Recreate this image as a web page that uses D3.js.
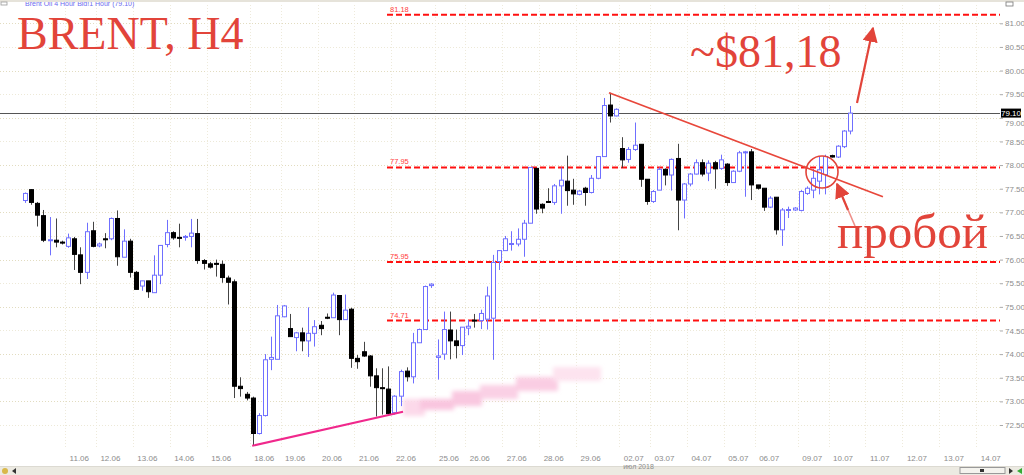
<!DOCTYPE html>
<html><head><meta charset="utf-8">
<script src="https://cdn.jsdelivr.net/npm/d3@7"></script>
<style>
body{margin:0;background:#fff;}
svg{display:block;}
</style></head>
<body><svg id="c" width="1024" height="475"></svg>
<script>
// ---- DATA ----
const opens = [77.25,77.48,77.19,76.93,76.41,76.41,76.37,76.28,76.44,76.10,
75.73,76.61,76.29,76.44,76.44,76.87,76.05,76.39,75.73,75.44,
75.55,75.30,75.67,76.32,76.57,76.47,76.47,76.49,76.55,75.98,
75.91,75.92,75.90,75.61,75.53,73.32,73.15,73.07,72.32,72.70,
73.89,73.89,74.79,74.54,74.35,74.45,74.28,74.44,74.61,74.78,
74.77,75.24,74.73,74.95,73.91,74.05,73.96,73.54,73.29,73.26,
72.76,73.11,73.64,73.52,74.24,74.52,75.45,73.93,74.00,74.51,
74.28,74.18,74.55,74.72,74.71,74.74,74.76,75.96,76.19,76.32,
76.33,76.43,76.77,77.93,77.17,77.23,77.21,77.56,77.66,77.47,
77.38,77.51,77.42,77.72,78.18,79.27,79.04,78.35,78.12,78.33,
78.44,77.70,77.23,77.47,77.91,77.79,78.14,77.26,77.60,77.81,
78.05,77.83,78.05,77.93,78.02,77.63,77.87,78.26,78.28,77.58,
77.51,77.11,77.32,76.63,77.04,77.05,77.04,77.40,77.47,77.66,
77.80,78.20,78.17,78.39,78.72];
const highs = [77.42,77.49,77.22,77.05,76.90,76.87,76.40,76.55,76.48,76.26,
76.78,76.80,76.36,76.56,76.89,77.04,76.64,76.44,75.76,75.55,
75.55,76.09,76.30,76.84,76.60,76.76,76.52,76.86,76.86,76.01,
75.95,76.00,75.98,75.66,75.58,73.51,73.20,73.10,72.75,74.00,
74.37,75.04,75.04,74.85,74.47,74.56,74.99,74.72,74.70,74.86,
75.30,75.24,75.26,74.98,73.98,74.26,73.98,73.70,73.70,73.74,
73.13,73.67,73.72,74.45,74.54,75.45,75.50,74.31,74.90,74.90,
74.52,74.57,74.72,74.85,74.94,75.43,76.10,76.20,76.50,76.60,
76.66,76.84,77.95,77.94,77.19,77.51,77.60,77.95,78.20,77.71,
77.47,77.54,77.79,78.19,79.42,79.53,79.20,78.59,78.38,78.90,
78.44,77.70,77.47,77.95,77.93,78.14,78.45,77.62,77.83,78.12,
78.12,78.10,78.09,78.22,78.04,77.89,78.30,78.30,78.34,77.58,
77.51,77.34,77.32,77.09,77.12,77.11,77.47,77.55,77.92,78.18,
78.22,78.22,78.42,78.74,79.25];
const lows = [77.20,77.16,76.70,76.37,76.09,76.26,76.32,76.25,75.78,75.48,
75.59,76.26,76.26,76.24,76.41,75.87,76.05,75.62,75.37,75.34,
75.19,75.30,75.48,76.26,76.42,76.26,76.40,76.26,75.91,75.79,
75.81,75.64,75.51,75.05,73.07,73.10,73.02,72.06,72.30,72.68,
73.66,73.89,74.78,74.37,74.06,74.06,73.94,74.16,74.40,74.74,
74.77,74.40,74.73,73.71,73.69,73.94,73.31,72.68,72.72,72.70,
72.72,72.90,73.42,73.38,74.24,74.52,75.40,73.46,73.88,73.89,
73.91,73.98,74.40,74.56,74.53,74.52,73.88,75.78,76.19,76.19,
76.28,76.06,76.77,76.97,76.98,77.20,77.16,76.97,77.14,77.16,
77.36,77.14,77.40,77.70,78.18,78.90,79.03,77.94,78.05,78.30,
77.54,77.16,77.20,77.47,77.57,77.46,76.62,76.87,77.55,77.80,
77.76,77.66,77.50,77.90,77.56,77.63,77.85,77.33,77.26,77.48,
77.03,77.09,76.53,76.29,76.88,77.03,77.02,77.37,77.30,77.38,
77.38,78.16,78.15,78.36,78.65];
const closes = [77.40,77.21,76.94,76.41,76.42,76.37,76.35,76.46,76.11,75.73,
76.59,76.28,76.33,76.43,76.87,76.06,76.39,75.73,75.37,75.55,
75.32,75.67,76.30,76.57,76.46,76.46,76.49,76.56,75.98,75.92,
75.84,75.90,75.62,75.52,73.32,73.27,73.07,72.32,72.70,73.88,
73.93,74.81,75.02,74.37,74.45,74.28,74.44,74.58,74.54,74.76,
75.25,74.73,74.93,73.91,73.84,73.96,73.54,73.29,73.27,72.74,
73.11,73.63,73.52,74.24,74.52,75.43,75.48,73.96,74.52,74.28,
74.18,74.57,74.59,74.70,74.86,75.23,75.94,76.19,76.44,76.34,
76.43,76.77,77.95,77.07,77.09,77.21,77.56,77.68,77.46,77.39,
77.45,77.42,77.72,78.18,79.26,79.04,79.18,78.11,78.33,78.42,
77.70,77.23,77.44,77.91,77.79,78.12,77.26,77.60,77.81,78.05,
77.81,78.04,77.92,78.11,77.63,77.87,78.26,78.28,77.58,77.51,
77.11,77.30,76.63,77.05,77.06,77.09,77.44,77.51,77.72,77.90,
78.18,78.17,78.40,78.72,79.10];

const dayLabels = ["11.06","12.06","13.06","14.06","15.06","18.06","19.06","20.06","21.06","22.06",
"25.06","26.06","27.06","28.06","29.06","02.07","03.07","04.07","05.07","06.07",
"09.07","10.07","11.07","12.07","13.07","14.07"];
const dayStartBar = [7,12,18,24,30,37,42,48,54,60,67,72,78,84,90,97,102,108,114,119,126,131,137,143,149,155];

const priceTicks = [72.5,73,73.5,74,74.5,75,75.5,76,76.5,77,77.5,78,78.5,79,79.5,80,80.5,81];

const levelPrices = [81.18, 77.95, 75.95, 74.71];
const levelLabels = ["81.18","77.95","75.95","74.71"];
const levelStartBar = 58.8;

const lastPrice = 79.10;

// trendlines in (bar index, price)
const resistanceLine = [[94.85, 79.53],[139.35, 77.33]];
const supportLine = [[36.9, 72.06],[61.4, 72.78]];

// ---- SCALES ----
const svg = d3.select("#c");
const W = 1024, H = 475, plotRight = 1000;
const x = d3.scaleLinear().domain([0, 134]).range([25, 850]);
const y = d3.scaleLinear().domain([72.5, 81]).range([425, 23.3]);

const bars = opens.map((o,i)=>({i, o, h:highs[i], l:lows[i], c:closes[i]}));

// ---- GRID ----
const grid = svg.append("g");
grid.selectAll("line.h").data(priceTicks).join("line")
  .attr("x1",0).attr("x2",plotRight)
  .attr("y1",d=>Math.round(y(d))+0.5).attr("y2",d=>Math.round(y(d))+0.5)
  .attr("stroke", d=> Number.isInteger(d) ? "#e2dcc0" : "#ede9d8")
  .attr("stroke-dasharray","1,2");
grid.selectAll("line.v").data(dayStartBar).join("line")
  .attr("x1",d=>Math.round(x(d)-3)+0.5).attr("x2",d=>Math.round(x(d)-3)+0.5)
  .attr("y1",5).attr("y2",448)
  .attr("stroke","#eeeadb").attr("stroke-dasharray","1,2");

// ---- header ----
svg.append("text").attr("x",25).attr("y",5.5).attr("font-family","Liberation Sans, Arial").attr("font-size",7)
  .attr("fill","#6b6bf0").text("Brent Oil 4 Hour Bid!1 Hour (79.10)");
svg.append("rect").attr("x",0).attr("y",0).attr("width",W).attr("height",2).attr("fill","#e6e3da");
svg.append("rect").attr("x",1).attr("y",2).attr("width",6).attr("height",3).attr("fill","none").attr("stroke","#999").attr("stroke-width",0.8);
svg.append("rect").attr("x",1006).attr("y",2).attr("width",7).attr("height",4).attr("fill","none").attr("stroke","#777").attr("stroke-width",0.8);

// ---- pink smear ----
const defs = svg.append("defs");
defs.append("filter").attr("id","blur").append("feGaussianBlur").attr("stdDeviation",2.2);
const smear = [[403,399,22,17,"#fcd9ea"],[420,399,34,11,"#f9c6df"],[452,391,30,15,"#f9c8e0"],
 [480,385,38,14,"#fad0e5"],[516,377,42,14,"#facde3"],[553,367,48,14,"#fde3ef"]];
svg.append("g").attr("filter","url(#blur)").selectAll("rect").data(smear).join("rect")
  .attr("x",d=>d[0]).attr("y",d=>d[1]).attr("width",d=>d[2]).attr("height",d=>d[3]).attr("fill",d=>d[4]);

// ---- level lines ----
const lv = svg.append("g");
lv.selectAll("line").data(levelPrices).join("line")
  .attr("x1",x(levelStartBar)).attr("x2",plotRight)
  .attr("y1",d=>y(d)).attr("y2",d=>y(d))
  .attr("stroke","#ff1010").attr("stroke-width",2).attr("stroke-dasharray","6,3");
lv.selectAll("text").data(levelLabels).join("text")
  .attr("x",x(levelStartBar)+3).attr("y",(d,i)=>y(levelPrices[i])-3)
  .attr("font-family","Liberation Sans, Arial").attr("font-size",7.5).attr("fill","#ff4040").text(d=>d);

// ---- last price line ----
svg.append("line").attr("x1",0).attr("x2",plotRight).attr("y1",Math.round(y(lastPrice))+0.5).attr("y2",Math.round(y(lastPrice))+0.5)
  .attr("stroke","#555").attr("stroke-width",1);

// ---- candles ----
const bull = "#6f6fff";
const cg = svg.append("g");
cg.selectAll("line").data(bars).join("line")
  .attr("x1",d=>Math.round(x(d.i))+0.5).attr("x2",d=>Math.round(x(d.i))+0.5)
  .attr("y1",d=>y(d.h)).attr("y2",d=>y(d.l))
  .attr("stroke",d=>d.c>=d.o?bull:"#444").attr("stroke-width",1);
cg.selectAll("rect").data(bars).join("rect")
  .attr("x",d=>Math.round(x(d.i))-1.5).attr("width",4)
  .attr("y",d=>y(Math.max(d.o,d.c)))
  .attr("height",d=>Math.max(1, y(Math.min(d.o,d.c))-y(Math.max(d.o,d.c))))
  .attr("fill",d=>d.c>=d.o?"#fff":"#000")
  .attr("stroke",d=>d.c>=d.o?bull:"#000").attr("stroke-width",1);

// ---- trendlines ----
const lineGen = d3.line().x(d=>x(d[0])).y(d=>y(d[1]));
svg.append("path").attr("d",lineGen(resistanceLine)).attr("stroke","#e8473b").attr("stroke-width",1.8).attr("fill","none");
svg.append("path").attr("d",lineGen(supportLine)).attr("stroke","#f0288c").attr("stroke-width",2).attr("fill","none");

// ---- y axis ----
const yAxis = d3.axisRight(y).tickValues(priceTicks).tickFormat(d3.format(".2f")).tickSize(3).tickPadding(2);
const ya = svg.append("g").attr("transform",`translate(${plotRight},0)`).call(yAxis);
ya.select(".domain").remove();
ya.selectAll("line").attr("stroke","#aaa");
ya.selectAll("text").attr("font-family","Liberation Sans, Arial").attr("font-size",8).attr("fill","#8c8c8c");
// the 79.00 label peeks out just below the last-price box
ya.selectAll(".tick").filter(d=>d===79).select("text").attr("dy","0.95em");

// last price box
svg.append("rect").attr("x",1001).attr("y",y(lastPrice)-4.5).attr("width",20).attr("height",9).attr("fill","#000");
svg.append("text").attr("x",1011).attr("y",y(lastPrice)+3).attr("text-anchor","middle")
  .attr("font-family","Liberation Sans, Arial").attr("font-size",8).attr("fill","#fff").text(lastPrice.toFixed(2));

// ---- x axis ----
const xl = svg.append("g");
xl.selectAll("text").data(dayLabels).join("text")
  .attr("x",(d,i)=>x(dayStartBar[i])+1.5).attr("y",461)
  .attr("font-family","Liberation Sans, Arial").attr("font-size",8).attr("fill","#8c8c8c").text(d=>d);

// ---- bottom bar ----
svg.append("rect").attr("x",0).attr("y",467).attr("width",W).attr("height",8).attr("fill","#eceae2");
svg.append("line").attr("x1",0).attr("x2",W).attr("y1",466.5).attr("y2",466.5).attr("stroke","#dcdad2");
svg.append("text").attr("x",x(97)+1).attr("y",468.5).attr("font-family","Liberation Sans, Arial").attr("font-size",7)
  .attr("fill","#8c8c8c").text("июл 2018");
svg.append("rect").attr("x",960).attr("y",467.5).attr("width",45).attr("height",6).attr("fill","#f4f3ee").attr("stroke","#999");
svg.append("rect").attr("x",980).attr("y",469).attr("width",4).attr("height",3).attr("fill","#333");
svg.append("path").attr("d","M1009,468 L1013,471 L1009,474 Z").attr("fill","#333");
svg.append("path").attr("d","M1022,468 L1017,471 L1022,474 Z").attr("fill","#3a3");
svg.append("path").attr("d","M16,468 L12,471 L16,474 Z").attr("fill","#333");
svg.append("circle").attr("cx",5).attr("cy",471).attr("r",3).attr("fill","#d9b84a");

// ---- annotations ----
const red = "#e2443a";
const serif = "Liberation Serif, Times New Roman, serif";
svg.append("text").attr("x",17).attr("y",49).attr("font-family",serif).attr("font-size",46).attr("fill",red).text("BRENT, H4");
svg.append("text").attr("x",690).attr("y",67).attr("font-family",serif).attr("font-size",46).attr("fill",red).text("~$81,18");
svg.append("text").attr("x",837).attr("y",248).attr("font-family",serif).attr("font-size",49).attr("fill",red).text("пробой");

defs.append("marker").attr("id","ah").attr("viewBox","0 0 10 10").attr("refX",9).attr("refY",5)
  .attr("markerWidth",7).attr("markerHeight",7).attr("markerUnits","strokeWidth").attr("orient","auto")
  .append("path").attr("d","M0,0 L10,5 L0,10 Z").attr("fill",red);
svg.append("line").attr("x1",857).attr("y1",103).attr("x2",873).attr("y2",28)
  .attr("stroke",red).attr("stroke-width",2.2).attr("marker-end","url(#ah)");
svg.append("line").attr("x1",855).attr("y1",226).attr("x2",837).attr("y2",184)
  .attr("stroke","#ee8f88").attr("stroke-width",1.6);
svg.append("line").attr("x1",848).attr("y1",210).attr("x2",837).attr("y2",184)
  .attr("stroke",red).attr("stroke-width",2.2).attr("marker-end","url(#ah)");
svg.append("circle").attr("cx",822).attr("cy",172).attr("r",16).attr("fill","none").attr("stroke",red).attr("stroke-width",1.6);
</script>
</body></html>
